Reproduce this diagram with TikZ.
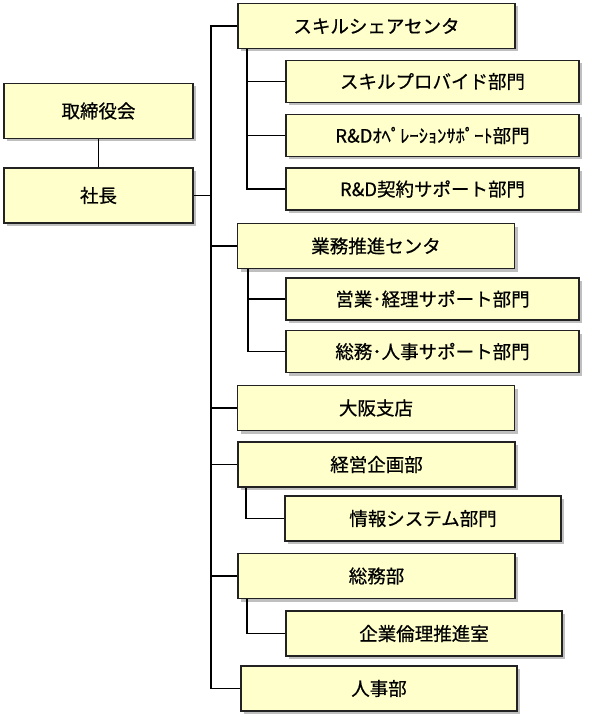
\documentclass[tikz,border=0pt]{standalone}
\usepackage{fontspec}
\usepackage{tikz}
\usetikzlibrary{positioning, shadows, backgrounds}
\newfontfamily\jpfont[FakeBold=0.6]{Noto Sans CJK JP}
\definecolor{boxfill}{HTML}{FFFFCC}
\definecolor{boxline}{HTML}{222222}
\tikzset{x=1pt, y=-1pt, % One unit is one pixel of the chart, y runs down
orgbox/.style={ % Sets the properties for each department box
draw=boxline, line width=1.2pt, fill=boxfill,
inner sep=0pt, font=\jpfont\fontsize{18.5}{20}\selectfont,
drop shadow={shadow xshift=3pt, shadow yshift=-3pt, fill=black, opacity=0.25}},
topbox/.style={orgbox, minimum width=277pt, minimum height=45pt},
subbox/.style={orgbox, minimum width=293pt, minimum height=42pt},
smallbox/.style={orgbox, minimum width=276pt, minimum height=45pt},
headbox/.style={orgbox, minimum width=189pt, minimum height=55pt},
link/.style={ % Sets the properties for each connector
draw=black, line width=1.9pt}}

\begin{document}
\begin{tikzpicture}
    \useasboundingbox (0,0) rectangle (591,722);
    
    \node[headbox] (board) at (98.5,111) {取締役会};
    \node[headbox] (ceo) at (98.5,195.5) {社長};
    
    \node[topbox] (skill) at (376.5,26) {スキルシェアセンタ};
    \node[subbox] (provide) at (432.5,81.5) {スキルプロバイド部門};
    \node[subbox] (rdop) at (432.5,135.5) {R\&Dｵﾍﾟﾚｰｼｮﾝｻﾎﾟｰﾄ部門};
    \node[subbox] (rdcon) at (432.5,189) {R\&D契約サポート部門};
    
    \node[topbox] (gyomu) at (376,246) {業務推進センタ};
    \node[subbox] (eigyo) at (432.5,299) {営業･経理サポート部門};
    \node[subbox] (somujinji) at (432.5,351.5) {総務･人事サポート部門};
    
    \node[topbox] (osaka) at (376,408) {大阪支店};
    
    \node[topbox] (keiei) at (376.5,464.5) {経営企画部};
    \node[smallbox] (joho) at (423,518.5) {情報システム部門};
    
    \node[topbox] (somu) at (376.5,576) {総務部};
    \node[smallbox] (rinri) at (424,633.5) {企業倫理推進室};
    
    \node[smallbox] (jinji) at (379,688.5) {人事部};
    
    \coordinate (trunk) at (211,0);
    
    \begin{pgfonlayer}{background}
    \draw[link] (board) -- (ceo);
    \draw[link] (ceo.east) -- (ceo.east -| trunk);
    \draw[link] (skill.west) -- (skill.west -| trunk) -- (jinji.west -| trunk) -- (jinji.west);
    \foreach \n in {gyomu, osaka, keiei, somu}
        \draw[link] (\n.west) -- (\n.west -| trunk);
    
    \foreach \n in {provide, rdop, rdcon}
        \draw[link] ([xshift=10pt]skill.south west) |- (\n.west);
    \foreach \n in {eigyo, somujinji}
        \draw[link] ([xshift=11pt]gyomu.south west) |- (\n.west);
    \draw[link] ([xshift=9pt]keiei.south west) |- (joho.west);
    \draw[link] ([xshift=10pt]somu.south west) |- (rinri.west);
    \end{pgfonlayer}
    
\end{tikzpicture}
\end{document}
